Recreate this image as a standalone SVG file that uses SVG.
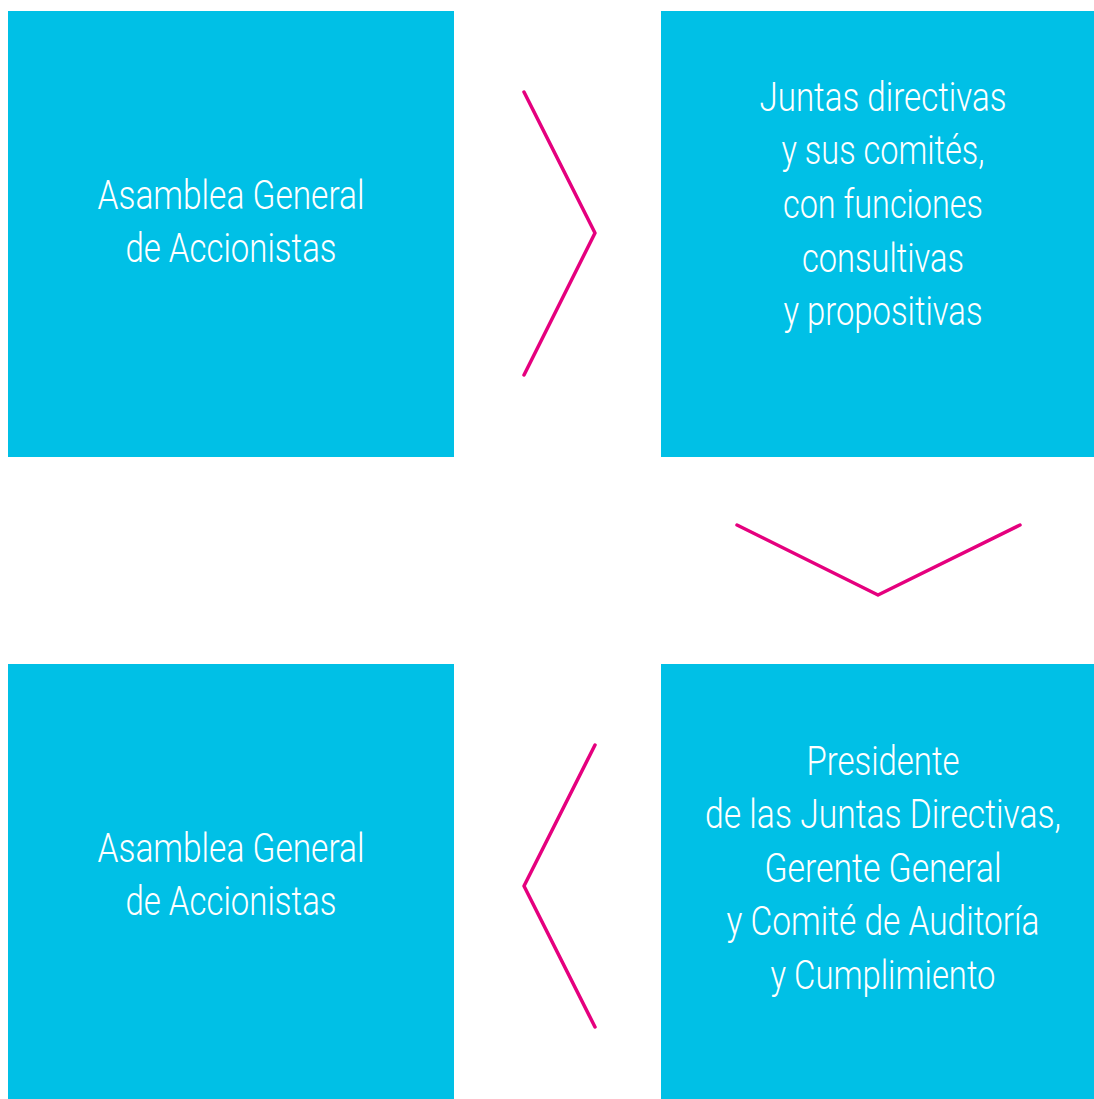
<svg xmlns="http://www.w3.org/2000/svg" width="1094" height="1099" viewBox="0 0 1094 1099">
<style>
.box{fill:#00C0E6}
.t{font-family:Roboto,"Liberation Sans",sans-serif;font-weight:300;font-size:40px;fill:#fff;text-anchor:middle}
.c{fill:none;stroke:#E5007E;stroke-width:3.5;stroke-linecap:round;stroke-linejoin:round}
</style>
<rect width="1094" height="1099" fill="#fff"/>
<g id="node-asamblea-top">
<rect class="box" x="8" y="11" width="446" height="446"/>
<text class="t"><tspan x="231" y="209" textLength="267" lengthAdjust="spacingAndGlyphs">Asamblea General</tspan><tspan x="231" y="262" textLength="211" lengthAdjust="spacingAndGlyphs">de Accionistas</tspan></text>
</g>
<g id="node-juntas">
<rect class="box" x="661" y="11" width="433" height="446"/>
<text class="t"><tspan x="883" y="111" textLength="247" lengthAdjust="spacingAndGlyphs">Juntas directivas</tspan><tspan x="883" y="164" textLength="203" lengthAdjust="spacingAndGlyphs">y sus comités,</tspan><tspan x="883" y="218" textLength="200" lengthAdjust="spacingAndGlyphs">con funciones</tspan><tspan x="883" y="272" textLength="162" lengthAdjust="spacingAndGlyphs">consultivas</tspan><tspan x="883" y="325" textLength="199" lengthAdjust="spacingAndGlyphs">y propositivas</tspan></text>
</g>
<g id="node-presidente">
<rect class="box" x="661" y="664" width="433" height="435"/>
<text class="t"><tspan x="883" y="775" textLength="153" lengthAdjust="spacingAndGlyphs">Presidente</tspan><tspan x="883" y="828" textLength="356" lengthAdjust="spacingAndGlyphs">de las Juntas Directivas,</tspan><tspan x="883" y="882" textLength="237" lengthAdjust="spacingAndGlyphs">Gerente General</tspan><tspan x="883" y="935" textLength="313" lengthAdjust="spacingAndGlyphs">y Comité de Auditoría</tspan><tspan x="883" y="989" textLength="225" lengthAdjust="spacingAndGlyphs">y Cumplimiento</tspan></text>
</g>
<g id="node-asamblea-bottom">
<rect class="box" x="8" y="664" width="446" height="435"/>
<text class="t"><tspan x="231" y="862" textLength="267" lengthAdjust="spacingAndGlyphs">Asamblea General</tspan><tspan x="231" y="915" textLength="211" lengthAdjust="spacingAndGlyphs">de Accionistas</tspan></text>
</g>
<g id="connectors">
<polyline class="c" points="524,92 595,233 524,375"/>
<polyline class="c" points="737,525 878,595 1020,525"/>
<polyline class="c" points="595,745 524,886 595,1027"/>
</g>
</svg>
